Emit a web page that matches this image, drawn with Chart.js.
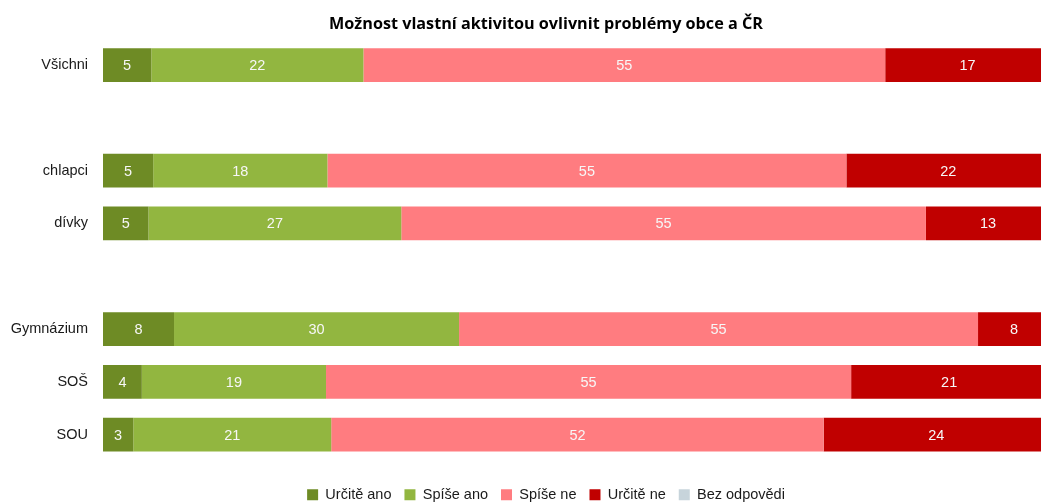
<!DOCTYPE html>
<html>
<head>
<meta charset="utf-8">
<script src="https://cdn.jsdelivr.net/npm/chart.js@4.4.1/dist/chart.umd.min.js"></script>
<style>
  html, body { margin: 0; padding: 0; background: #ffffff; overflow: hidden; width: 1041px; height: 502px; }
  #wrap { position: absolute; left: 0; top: 0; width: 1092px; height: 512px; }
</style>
</head>
<body>
<div id="wrap"><canvas id="c" width="1092" height="512"></canvas></div>
<script>
const title = 'Možnost vlastní aktivitou ovlivnit problémy obce a ČR';
const categories = ['Všichni', '', 'chlapci', 'dívky', '', 'Gymnázium', 'SOŠ', 'SOU'];
const seriesNames = ['Určitě ano', 'Spíše ano', 'Spíše ne', 'Určitě ne', 'Bez odpovědi'];
const urciteAno = [5.1, null, 5.3, 4.8, null, 7.5, 4.1, 3.2];
const spiseAno = [22.4, null, 18.4, 26.7, null, 30.1, 19.45, 20.9];
const spiseNe = [55.1, null, 54.8, 55.4, null, 54.8, 55.45, 52.0];
const urciteNe = [17.4, null, 21.5, 13.1, null, 7.6, 20.7, 23.8];
const bezOdpovedi = [0, null, 0, 0, null, 0, 0.3, 0.1];
const colors = ['#6E8B25', '#92B640', '#FF7C80', '#C00000', '#C7D4DB'];

const FONT = '"Liberation Sans", Arial, sans-serif';
const seriesData = [urciteAno, spiseAno, spiseNe, urciteNe, bezOdpovedi];

const barLabels = {
  id: 'barLabels',
  afterDatasetsDraw(chart) {
    const ctx = chart.ctx;
    ctx.save();
    ctx.font = '14.5px ' + FONT;
    ctx.fillStyle = '#f7f7f7';
    ctx.textAlign = 'center';
    ctx.textBaseline = 'middle';
    chart.data.datasets.forEach((ds, i) => {
      const meta = chart.getDatasetMeta(i);
      meta.data.forEach((el, j) => {
        const v = ds.data[j];
        if (v == null || v < 1) return;
        const cx = (el.x + el.base) / 2;
        ctx.fillText(String(Math.round(v)), cx, el.y + 1);
      });
    });
    ctx.restore();
  }
};

new Chart(document.getElementById('c'), {
  type: 'bar',
  data: {
    labels: categories,
    datasets: seriesNames.map((name, i) => ({
      label: name,
      data: seriesData[i],
      backgroundColor: colors[i],
      borderWidth: 0,
      barPercentage: 1,
      categoryPercentage: 0.64
    }))
  },
  options: {
    indexAxis: 'y',
    responsive: false,
    animation: false,
    layout: { padding: 0 },
    scales: {
      x: {
        stacked: true,
        min: 0,
        max: 100,
        display: true,
        ticks: { display: false },
        grid: { display: false, drawTicks: false },
        border: { display: false },
        afterFit(scale) { scale.height = 13.4; }
      },
      y: {
        stacked: true,
        grid: { display: false, drawTicks: false },
        border: { display: false },
        ticks: { color: '#1a1a1a', font: { family: FONT, size: 14.5 }, padding: 15 },
        afterFit(scale) { scale.width = 103; }
      },
      yRight: {
        type: 'category',
        position: 'right',
        display: true,
        ticks: { display: false },
        grid: { display: false, drawTicks: false },
        border: { display: false },
        afterFit(scale) { scale.width = 42; }
      }
    },
    plugins: {
      title: {
        display: true,
        text: title,
        color: '#000000',
        font: { family: '"Open Sans", sans-serif', size: 16.2, weight: 'bold', lineHeight: 1.15 },
        padding: { top: 15, bottom: 5 }
      },
      legend: {
        position: 'bottom',
        labels: {
          color: '#1a1a1a',
          font: { family: FONT, size: 14.5 },
          boxWidth: 11,
          boxHeight: 11,
          padding: 13
        }
      },
      tooltip: { enabled: false }
    }
  },
  plugins: [barLabels]
});
</script>
</body>
</html>
